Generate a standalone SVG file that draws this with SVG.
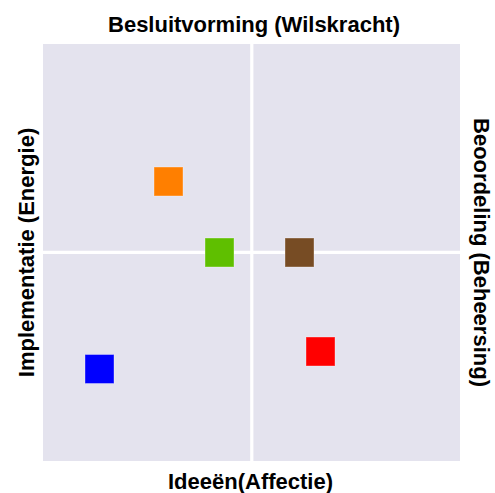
<svg xmlns="http://www.w3.org/2000/svg" width="495" height="493" viewBox="0 0 495 493">
<style>
.lbl{font-family:"Liberation Sans",Arial,sans-serif;font-weight:bold;font-size:22px;fill:#000;text-anchor:middle}
.pt{stroke-width:1;stroke-opacity:0.35;stroke:#fff}
</style>
<rect x="0" y="0" width="495" height="493" fill="#fff"/>
<g id="panel">
<rect x="43" y="44" width="417" height="417" fill="#E4E3EE"/>
</g>
<g id="connectors">
<line x1="251.8" y1="44" x2="251.8" y2="461" stroke="#fff" stroke-width="3.2"/>
<line x1="43" y1="252.3" x2="460" y2="252.3" stroke="#fff" stroke-width="3.2"/>
</g>
<g id="orange"><rect class="pt" x="154" y="167" width="29" height="29" fill="#FF7F00"/></g>
<g id="green"><rect class="pt" x="205" y="238" width="29" height="29" fill="#5FBF00"/></g>
<g id="brown"><rect class="pt" x="285" y="238" width="29" height="29" fill="#774C24"/></g>
<g id="blue"><rect class="pt" x="85" y="354.5" width="29" height="29" fill="#0000FF"/></g>
<g id="red"><rect class="pt" x="306" y="337" width="29" height="29" fill="#FF0000"/></g>
<g id="labels">
<text class="lbl" x="254" y="31.5">Besluitvorming (Wilskracht)</text>
<text class="lbl" x="250.5" y="489">Ideeën(Affectie)</text>
<text class="lbl" transform="translate(33.5,252.5) rotate(-90)">Implementatie (Energie)</text>
<text class="lbl" transform="translate(474,252.5) rotate(90)">Beoordeling (Beheersing)</text>
</g>
</svg>
